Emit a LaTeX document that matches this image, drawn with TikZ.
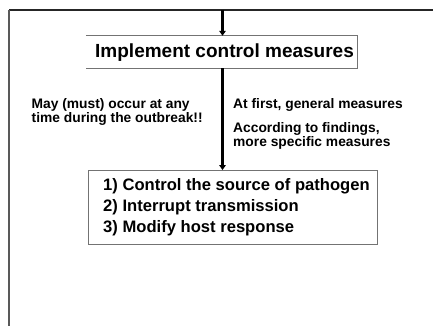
\documentclass[tikz,border=0pt]{standalone}
\usepackage{fontspec}
\setmainfont{Liberation Sans}
\usetikzlibrary{arrows.meta}
\begin{document}
\begin{tikzpicture}[x=1pt,y=-1pt,
  frameline/.style={line width=2pt,draw=black!85},
  sideline/.style={line width=2.2pt,draw=black!65},
  boxline/.style={line width=0.9pt,draw=black!55},
  flow/.style={line width=2.6pt,draw=black,-{Triangle[length=5pt,width=6.5pt]}},
  note/.style={font=\fontsize{13.8}{15}\selectfont\bfseries,anchor=base west,inner sep=0pt},
  lead/.style={font=\fontsize{16.6}{21}\selectfont\bfseries,anchor=base west,inner sep=0pt}]
\useasboundingbox (0,0) rectangle (433,326);

% frame: top and left sides only
\coordinate (ftl) at (9,10);
\coordinate (ftr) at (433,10);
\coordinate (fbl) at (9,326);
\draw[frameline] (ftl) -- (ftr);
\draw[sideline] (ftl) -- (fbl);
\coordinate (entry) at (222.5,10);

% first box
\node[minimum width=271pt,minimum height=32pt,inner sep=0pt] (implement) at (221.5,52) {};
\node[font=\fontsize{19}{22}\selectfont\bfseries,anchor=base west,inner sep=0pt] (implementtext) at (95,58) {Implement control measures};
\draw[boxline] (implement.north west) -- (implement.north east) -- (implement.south east) -- (implement.south west);

% second box
\node[draw,boxline,minimum width=289pt,minimum height=74pt,inner sep=0pt] (steps) at (232.5,207.5) {};
\node[lead] (step1) at (103,190) {1) Control the source of pathogen};
\node[lead] (step2) at (103,211) {2) Interrupt transmission};
\node[lead] (step3) at (103,232) {3) Modify host response};

% connectors
\draw[flow] (entry) -- (implement.north -| entry);
\draw[flow] (implement.south -| entry) -- (steps.north -| entry);

% side notes
\node[note] (anytime1) at (31.5,108) {May (must) occur at any};
\node[note] (anytime2) at (31.5,122) {time during the outbreak!!};
\node[note] (general) at (233,108) {At first, general measures};
\node[note] (specific1) at (233,132) {According to findings,};
\node[note] (specific2) at (233,146) {more specific measures};
\end{tikzpicture}
\end{document}
